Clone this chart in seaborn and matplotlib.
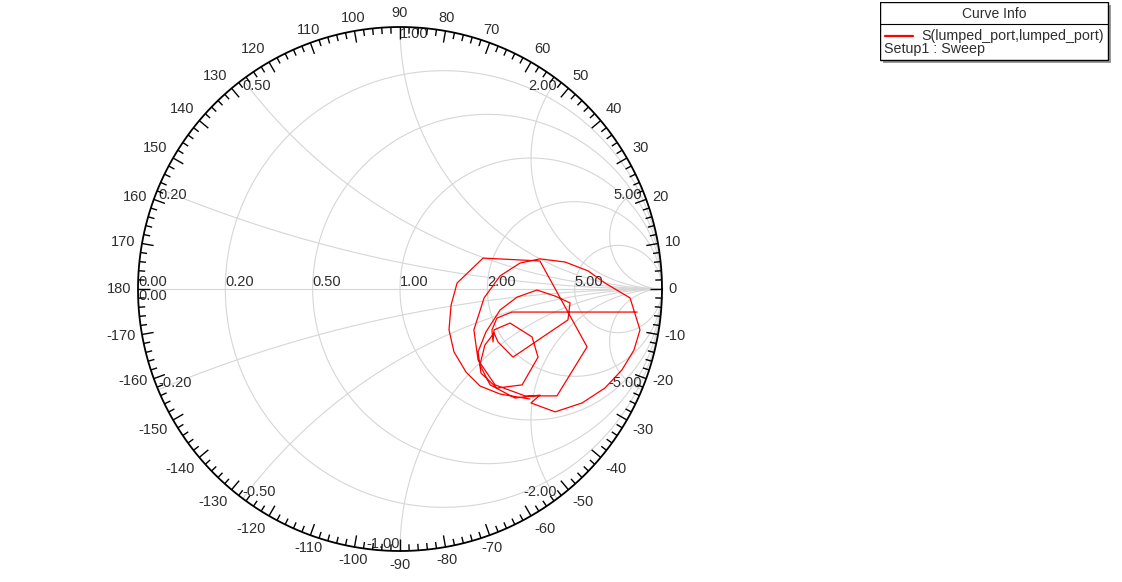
import numpy as np
import pandas as pd
import matplotlib.pyplot as plt
from matplotlib.collections import LineCollection
from matplotlib.patches import Rectangle
import seaborn as sns

sns.set_style('white')
plt.rcParams['font.family'] = ['Liberation Sans', 'DejaVu Sans']

# reflection coefficient S(lumped_port,lumped_port)
gamma_re = [0.905, 0.427, 0.370, 0.351, 0.355, 0.359, 0.420, 0.504, 0.527, 0.466,
            0.370, 0.309, 0.298, 0.328, 0.382, 0.447, 0.523, 0.592, 0.649, 0.641,
            0.431, 0.374, 0.359, 0.324, 0.305, 0.344, 0.439, 0.534, 0.500, 0.592,
            0.695, 0.782, 0.847, 0.893, 0.916, 0.878, 0.782, 0.718, 0.630, 0.534,
            0.458, 0.382, 0.321, 0.282, 0.298, 0.363, 0.477, 0.599, 0.714, 0.534,
            0.317, 0.218, 0.195, 0.187, 0.206, 0.252, 0.305, 0.382, 0.496]
gamma_im = [-0.088, -0.088, -0.111, -0.156, -0.202, -0.156, -0.130, -0.183, -0.260, -0.366,
            -0.378, -0.321, -0.240, -0.164, -0.080, -0.031, -0.004, -0.027, -0.053, -0.118,
            -0.260, -0.202, -0.168, -0.214, -0.290, -0.366, -0.416, -0.405, -0.435, -0.469,
            -0.435, -0.378, -0.309, -0.233, -0.156, -0.034, 0.023, 0.069, 0.103, 0.115,
            0.099, 0.050, -0.034, -0.156, -0.271, -0.366, -0.408, -0.408, -0.221, 0.107,
            0.118, 0.023, -0.061, -0.156, -0.240, -0.317, -0.370, -0.401, -0.420]

r_values = [0.2, 0.5, 1.0, 2.0, 5.0]
x_values = [0.2, 0.5, 1.0, 2.0, 5.0]
angle_labels = list(range(-170, 181, 10))

W, H = 1122, 582
cx, cy, R = 400, 289, 262
xl, yl = 1.2, 1.1
fig = plt.figure(figsize=(W / 100, H / 100), dpi=100)
ax = fig.add_axes([(cx - xl * R) / W, (H - cy - yl * R) / H, 2 * xl * R / W, 2 * yl * R / H])

grid_c = '#d6d6d6'
txt_c = '#2e2e2e'
fs = 10.5
t = np.linspace(0, 2 * np.pi, 500)

# resistance circles
for r in r_values:
    c, rad = r / (1 + r), 1 / (1 + r)
    ax.plot(c + rad * np.cos(t), rad * np.sin(t), color=grid_c, lw=0.8, zorder=1)
    ax.annotate(f'{r:.2f}', ((r - 1) / (r + 1), 0), xytext=(0, 0), textcoords='offset points',
                ha='left', va='bottom', fontsize=fs, color=txt_c)

# reactance arcs (only the part inside the unit circle)
for x in x_values:
    g = (1j * x - 1) / (1j * x + 1)
    a_end = np.arctan2(g.imag - 1 / x, g.real - 1)
    if a_end > -np.pi / 2:
        a_end -= 2 * np.pi
    a = np.linspace(-np.pi / 2, a_end, 300)
    px = 1 + np.cos(a) / x
    py = 1 / x + np.sin(a) / x
    ax.plot(px, py, color=grid_c, lw=0.8, zorder=1)
    ax.plot(px, -py, color=grid_c, lw=0.8, zorder=1)
    ha = 'left' if x <= 1 else 'right'
    ax.annotate(f'{x:.2f}', (g.real, g.imag), xytext=(0, 0), textcoords='offset points',
                ha=ha, va='top', fontsize=fs, color=txt_c)
    ha = 'left' if x < 1 else 'right'
    ax.annotate(f'-{x:.2f}', (g.real, -g.imag), xytext=(0, 0), textcoords='offset points',
                ha=ha, va='bottom', fontsize=fs, color=txt_c)

ax.plot([-1, 1], [0, 0], color=grid_c, lw=0.8, zorder=1)
ax.annotate('0.00', (-1, 0), xytext=(0, 0), textcoords='offset points',
            ha='left', va='bottom', fontsize=fs, color=txt_c)
ax.annotate('0.00', (-1, 0), xytext=(0, 0), textcoords='offset points',
            ha='left', va='top', fontsize=fs, color=txt_c)

# outer circle with angle ticks
ax.plot(np.cos(t), np.sin(t), color='black', lw=1.3, zorder=3)
segs = []
for d in range(0, 360, 2):
    a = np.deg2rad(d)
    ln = 0.045 if d % 10 == 0 else 0.025
    segs.append([(np.cos(a), np.sin(a)), ((1 - ln) * np.cos(a), (1 - ln) * np.sin(a))])
ax.add_collection(LineCollection(segs, colors='black', linewidths=1.0, zorder=3))

for d in angle_labels:
    a = np.deg2rad(d)
    c, s = np.cos(a), np.sin(a)
    ha = 'left' if c > 0.35 else ('right' if c < -0.35 else 'center')
    va = 'bottom' if s > 0.35 else ('top' if s < -0.35 else 'center')
    ax.text(1.025 * c, 1.025 * s, str(d), ha=ha, va=va, fontsize=fs, color=txt_c)

# the sweep curve
df = pd.DataFrame({'re': gamma_re, 'im': gamma_im})
sns.lineplot(data=df, x='re', y='im', sort=False, estimator=None, color='#ff0000',
             lw=0.9, ax=ax, zorder=4, legend=False)

ax.set_xlim(-xl, xl)
ax.set_ylim(-yl, yl)
ax.set_aspect('equal')
ax.axis('off')

# curve info box
lax = fig.add_axes([880 / W, 1 - 64 / H, 232 / W, 62 / H])
lax.set_xlim(0, 232)
lax.set_ylim(62, 0)
lax.axis('off')
lax.add_patch(Rectangle((3, 3), 228, 58, facecolor='#9a9a9a', edgecolor='none'))
lax.add_patch(Rectangle((0, 0), 228, 58, facecolor='white', edgecolor='black', lw=1))
lax.plot([0, 228], [22, 22], color='black', lw=0.8)
lax.text(114, 12, 'Curve Info', ha='center', va='center', fontsize=10, color=txt_c)
lax.plot([5, 33], [34, 34], color='#ff0000', lw=1.6)
lax.text(41, 34, 'S(lumped_port,lumped_port)', ha='left', va='center', fontsize=10.3,
         color=txt_c)
lax.text(4, 47, 'Setup1 : Sweep', ha='left', va='center', fontsize=10.3, color=txt_c)

fig.savefig('out.png', dpi=100)
